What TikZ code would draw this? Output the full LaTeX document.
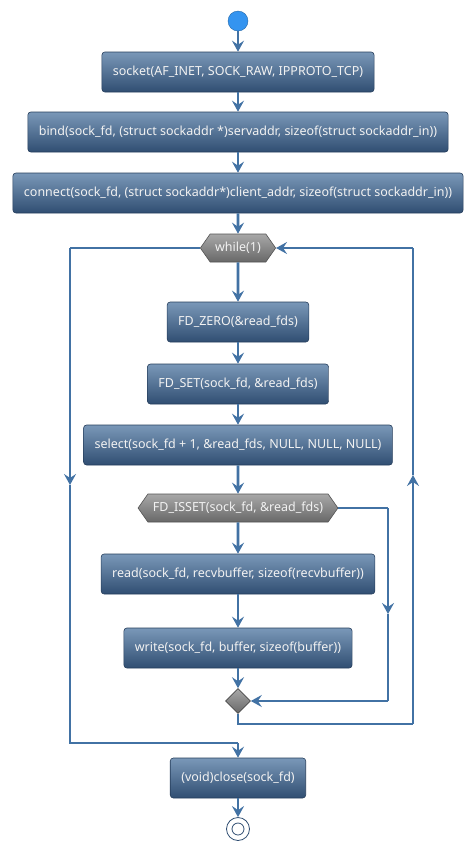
\documentclass[tikz,border=0pt]{standalone}
\usepackage{fontspec}
\setmainfont{Noto Sans}
\usetikzlibrary{positioning,arrows.meta,shapes.geometric,shapes.symbols}

\definecolor{flowline}{RGB}{66,114,164}
\definecolor{boxtop}{RGB}{122,152,184}
\definecolor{boxbottom}{RGB}{48,78,114}
\definecolor{boxedge}{RGB}{38,62,92}
\definecolor{greytop}{RGB}{168,168,168}
\definecolor{greybottom}{RGB}{104,104,104}
\definecolor{startblue}{RGB}{52,148,240}
\definecolor{labeltext}{RGB}{242,242,242}

\tikzset{
  action/.style={draw=boxedge, line width=0.6pt, rounded corners=3pt,
    top color=boxtop, bottom color=boxbottom, text=labeltext,
    minimum height=40pt, inner xsep=11pt, font=\fontsize{12.5}{15}\selectfont},
  cond/.style={signal, signal to=west and east, signal pointer angle=110,
    draw=greybottom!80!black, line width=0.6pt, top color=greytop, bottom color=greybottom,
    text=labeltext, minimum height=28pt, inner xsep=5pt, font=\fontsize{12.5}{15}\selectfont},
  merge/.style={diamond, draw=greybottom!70!black, line width=0.6pt,
    top color=greytop, bottom color=greybottom, minimum size=25pt, inner sep=0pt},
  flow/.style={draw=flowline, line width=2.8pt, -{Stealth[length=11pt,width=12pt,inset=4pt]}},
  flat/.style={draw=flowline, line width=2.8pt}
}

\begin{document}
\begin{tikzpicture}[x=1pt,y=-1pt]
				\useasboundingbox (0,0) rectangle (474,852);

					% nodes
					\node[circle, fill=startblue, draw=startblue!70!black, minimum size=20pt, inner sep=0pt] (start) at (238,21) {};
					\node[action] (sock) at (238,72) {socket(AF\_INET, SOCK\_RAW, IPPROTO\_TCP)};
					\node[action] (bind) at (238,132) {bind(sock\_fd, (struct sockaddr *)servaddr, sizeof(struct sockaddr\_in))};
					\node[action] (conn) at (238,193) {connect(sock\_fd, (struct sockaddr*)client\_addr, sizeof(struct sockaddr\_in))};
					\node[cond] (loop) at (238,248) {while(1)};
					\node[action] (zero) at (238,322) {FD\_ZERO(\&read\_fds)};
					\node[action] (set) at (238,384) {FD\_SET(sock\_fd, \&read\_fds)};
					\node[action] (sel) at (238,445) {select(sock\_fd + 1, \&read\_fds, NULL, NULL, NULL)};
					\node[cond] (isset) at (238,508) {FD\_ISSET(sock\_fd, \&read\_fds)};
					\node[action] (rd) at (238,574) {read(sock\_fd, recvbuffer, sizeof(recvbuffer))};
					\node[action] (wr) at (238,648) {write(sock\_fd, buffer, sizeof(buffer))};
					\node[merge] (join) at (238,701) {};
					\node[action] (close) at (238,778) {(void)close(sock\_fd)};
					\node[circle, draw=boxbottom, line width=0.8pt, fill=white, minimum size=23pt, inner sep=0pt] (stop) at (238,829) {};
					\draw[boxbottom, line width=0.8pt] (stop) circle (6pt);

					% turning points
					\coordinate (issetR) at (388,508);
					\coordinate (issetM) at (388,614);
					\coordinate (joinR) at (388,701);
					\coordinate (joinB) at (238,724);
					\coordinate (backB) at (413,724);
					\coordinate (backM) at (413,475);
					\coordinate (backT) at (413,248);
					\coordinate (exitT) at (70,248);
					\coordinate (exitM) at (70,485);
					\coordinate (exitB) at (70,743);
					\coordinate (exitC) at (238,743);

					% main flow
					\draw[flow] (start) -- (sock);
					\draw[flow] (sock) -- (bind);
					\draw[flow] (bind) -- (conn);
					\draw[flow] (conn) -- (loop);
					\draw[flow] (loop) -- (zero);
					\draw[flow] (zero) -- (set);
					\draw[flow] (set) -- (sel);
					\draw[flow] (sel) -- (isset);
					\draw[flow] (isset) -- (rd);
					\draw[flow] (rd) -- (wr);
					\draw[flow] (wr) -- (join);

					% skip branch
					\draw[flat] (isset.east) -- (issetR);
					\draw[flow] (issetR) -- (issetM);
					\draw[flat] (issetM) -- (joinR);
					\draw[flow] (joinR) -- (join.east);

					% back to while
					\draw[flat] (join.south) -- (joinB) -- (backB);
					\draw[flow] (backB) -- (backM);
					\draw[flat] (backM) -- (backT);
					\draw[flow] (backT) -- (loop.east);

					% leave the loop
					\draw[flat] (loop.west) -- (exitT);
					\draw[flow] (exitT) -- (exitM);
					\draw[flat] (exitM) -- (exitB) -- (exitC);
					\draw[flow] (exitC) -- (close);
					\draw[flow] (close) -- (stop);

				\end{tikzpicture}
\end{document}
